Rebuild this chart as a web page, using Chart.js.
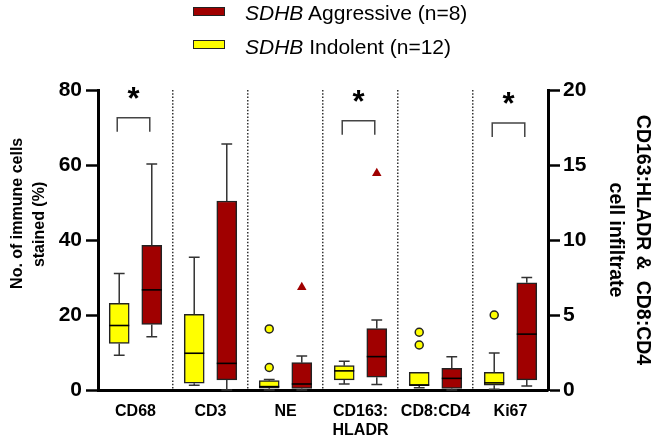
<!DOCTYPE html>
<html>
<head>
<meta charset="utf-8">
<script src="https://cdn.jsdelivr.net/npm/chart.js@4.4.1/dist/chart.umd.min.js"></script>
<style>
  body { margin: 0; background: #fff; font-family: Arial, "Liberation Sans", sans-serif; }
  #wrap { position: relative; width: 653px; height: 444px; }
  .sw { position: absolute; left: 193px; width: 30px; height: 7px; border: 1.5px solid #222; }
  .lt { position: absolute; left: 245px; font-size: 21px; line-height: 21px; color: #000; white-space: nowrap; }
</style>
</head>
<body>
<div id="wrap">
  <canvas id="chart"></canvas>
  <div class="sw" style="top:7px; background:#A00000;"></div>
  <div class="lt" style="top:2px;"><i>SDHB</i> Aggressive (n=8)</div>
  <div class="sw" style="top:40px; background:#FFFF00;"></div>
  <div class="lt" style="top:36px;"><i>SDHB</i> Indolent (n=12)</div>
</div>
<script>
// ── Data (all values in left-axis units; ratios read at 80/20 of the right axis) ──
const categories = ['CD68', 'CD3', 'NE', ['CD163:', 'HLADR'], 'CD8:CD4', 'Ki67'];

// Indolent (n=12)
const indMin = [9.3, 1.3, 0, 1.6, 0.6, 0.2];
const indQ1  = [12.4, 1.8, 0.5, 2.7, 1.2, 1.3];
const indMed = [17.2, 9.8, 0.9, 5.1, 1.3, 1.9];
const indQ3  = [23.1, 20.2, 2.5, 6.5, 4.7, 4.7];
const indMax = [31.1, 35.4, 2.8, 7.7, 4.7, 9.9];
const indOut = [[], [], [6.0, 16.3], [], [12.0, 15.4], [20.0]];

// Aggressive (n=8)
const aggMin = [14.2, 0, 0, 1.5, 0, 1.1];
const aggQ1  = [17.5, 2.7, 0.4, 3.4, 0.4, 2.7];
const aggMed = [26.7, 7.1, 1.6, 8.9, 3.1, 14.9];
const aggQ3  = [38.6, 50.4, 7.3, 16.4, 5.8, 28.6];
const aggMax = [60.3, 65.6, 9.1, 18.7, 8.9, 30.0];
const aggOut = [[], [], [27.4], [57.8], [], []];

// Significance brackets
const sigCats = [0, 3, 5];
const sigTop  = [72.6, 71.8, 71.2];
const sigText = ['*', '*', '*'];

const YELLOW = '#FFFF00';
const RED    = '#A00000';
const OFF = 0.217;   // box offset from category centre, in category units

// ── Whiskers, medians, brackets ─────────────────
const boxExtras = {
  id: 'boxExtras',
  afterDatasetsDraw(chart) {
    const ctx = chart.ctx;
    const y = chart.scales.y;
    const groups = [
      [0, indMin, indMed, indMax, indQ1, indQ3],
      [1, aggMin, aggMed, aggMax, aggQ1, aggQ3]
    ];
    ctx.save();
    groups.forEach(([ds, mins, meds, maxs, q1s, q3s]) => {
      chart.getDatasetMeta(ds).data.forEach((bar, i) => {
        const cx = bar.x, hw = bar.width / 2, cap = bar.width * 0.27;
        ctx.strokeStyle = '#333';
        ctx.lineWidth = 1.5;
        ctx.beginPath();
        if (maxs[i] > q3s[i]) {
          ctx.moveTo(cx, y.getPixelForValue(q3s[i]));
          ctx.lineTo(cx, y.getPixelForValue(maxs[i]));
          ctx.moveTo(cx - cap, y.getPixelForValue(maxs[i]));
          ctx.lineTo(cx + cap, y.getPixelForValue(maxs[i]));
        }
        if (mins[i] < q1s[i]) {
          ctx.moveTo(cx, y.getPixelForValue(q1s[i]));
          ctx.lineTo(cx, y.getPixelForValue(mins[i]));
          ctx.moveTo(cx - cap, y.getPixelForValue(mins[i]));
          ctx.lineTo(cx + cap, y.getPixelForValue(mins[i]));
        }
        ctx.stroke();
        ctx.strokeStyle = '#000';
        ctx.lineWidth = 1.6;
        ctx.beginPath();
        ctx.moveTo(cx - hw, y.getPixelForValue(meds[i]));
        ctx.lineTo(cx + hw, y.getPixelForValue(meds[i]));
        ctx.stroke();
      });
    });

    const ind = chart.getDatasetMeta(0).data;
    const agg = chart.getDatasetMeta(1).data;
    sigCats.forEach((c, k) => {
      const x1 = ind[c].x - 2, x2 = agg[c].x - 2;
      const top = y.getPixelForValue(sigTop[k]);
      ctx.strokeStyle = '#444';
      ctx.lineWidth = 1.5;
      ctx.beginPath();
      ctx.moveTo(x1, top + 14);
      ctx.lineTo(x1, top);
      ctx.lineTo(x2, top);
      ctx.lineTo(x2, top + 14);
      ctx.stroke();
      ctx.fillStyle = '#000';
      ctx.font = 'bold 31px Arial, "Liberation Sans"';
      ctx.textAlign = 'center';
      ctx.textBaseline = 'alphabetic';
      ctx.fillText(sigText[k], (x1 + x2) / 2, top - 9);
    });
    ctx.restore();
  }
};

const boxData = (q1s, q3s, shift) => q1s.map((q, i) => ({ x: i + shift, y: [q, q3s[i]] }));
const outlierPoints = (lists, shift) =>
  lists.flatMap((vals, i) => vals.map(v => ({ x: i + shift, y: v })));

new Chart(document.getElementById('chart'), {
  type: 'bar',
  data: {
    labels: categories,
    datasets: [
      {
        label: 'SDHB Indolent (n=12)',
        xAxisID: 'xs',
        grouped: false,
        data: boxData(indQ1, indQ3, -OFF),
        backgroundColor: YELLOW,
        borderColor: '#222',
        borderWidth: 1.5,
        borderSkipped: false,
        barThickness: 20
      },
      {
        label: 'SDHB Aggressive (n=8)',
        xAxisID: 'xs',
        grouped: false,
        data: boxData(aggQ1, aggQ3, OFF),
        backgroundColor: RED,
        borderColor: '#222',
        borderWidth: 1.5,
        borderSkipped: false,
        barThickness: 20
      },
      {
        type: 'scatter',
        xAxisID: 'xs',
        data: outlierPoints(indOut, -OFF),
        pointStyle: 'circle',
        pointRadius: 4,
        backgroundColor: YELLOW,
        borderColor: '#222',
        borderWidth: 1.5
      },
      {
        type: 'scatter',
        xAxisID: 'xs',
        data: outlierPoints(aggOut, OFF),
        pointStyle: 'triangle',
        pointRadius: 5.5,
        backgroundColor: RED,
        borderColor: RED,
        borderWidth: 0
      }
    ]
  },
  options: {
    responsive: true,
    maintainAspectRatio: false,
    animation: false,
    layout: { padding: { top: 90, right: 0, bottom: 0, left: 0 } },
    plugins: { legend: { display: false }, tooltip: { enabled: false } },
    scales: {
      x: {
        type: 'category',
        offset: true,
        grid: { offset: true, drawOnChartArea: true, drawTicks: false, color: '#333', lineWidth: 1.5 },
        border: { color: '#000', width: 3, dash: [1.5, 1.8] },
        ticks: { color: '#000', font: { family: 'Arial, "Liberation Sans"', size: 16, weight: 'bold' }, padding: 12, maxRotation: 0, autoSkip: false },
        afterFit: s => { s.height = 54; }
      },
      xs: { type: 'linear', display: false, offset: false, min: -0.5, max: 5.5, grid: { offset: false } },
      y: {
        position: 'left',
        min: 0, max: 80,
        ticks: { stepSize: 20, color: '#000', font: { family: 'Arial, "Liberation Sans"', size: 21, weight: 'bold' }, padding: 4 },
        grid: { drawOnChartArea: false, drawTicks: true, tickLength: 12, tickWidth: 2.5, tickColor: '#000' },
        border: { color: '#000', width: 3 },
        title: {
          display: true,
          text: ['            No. of immune cells', '       stained (%)'],
          color: '#000',
          font: { family: 'Arial, "Liberation Sans"', size: 16, weight: 'bold', lineHeight: 1.375 },
          padding: { top: 6.5, bottom: 0 }
        },
        afterFit: s => { s.width = 98; }
      },
      y2: {
        position: 'right',
        min: 0, max: 20,
        ticks: { stepSize: 5, color: '#000', font: { family: 'Arial, "Liberation Sans"', size: 21, weight: 'bold' }, padding: 3 },
        grid: { drawOnChartArea: false, drawTicks: true, tickLength: 12, tickWidth: 2.5, tickColor: '#000' },
        border: { color: '#000', width: 3 },
        title: {
          display: true,
          text: ['CD163:HLADR &  CD8:CD4', 'cell infiltrate'],
          color: '#000',
          font: { family: 'Arial, "Liberation Sans"', size: 19.5, weight: 'bold', lineHeight: 1.38 },
          padding: { top: -2.5, bottom: 0 }
        },
        afterFit: s => { s.width = 105; }
      }
    }
  },
  plugins: [boxExtras]
});
</script>
</body>
</html>
